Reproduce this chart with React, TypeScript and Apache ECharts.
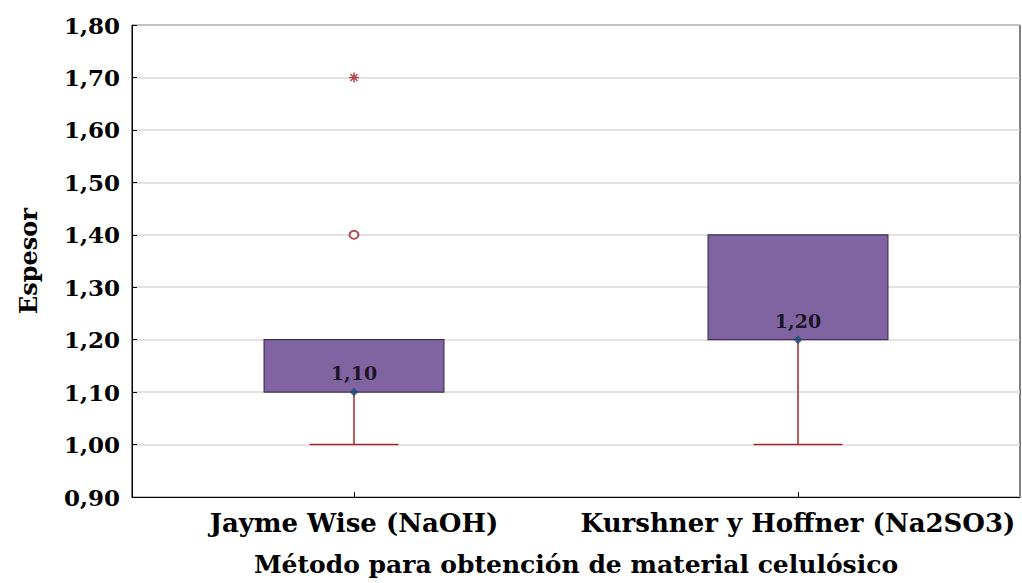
import React, { useEffect, useRef } from "react";
import * as echarts from "echarts";

const categories = ["Jayme Wise (NaOH)", "Kurshner y Hoffner (Na2SO3)"];
const whiskerLow = [1.0, 1.0];
const q1 = [1.1, 1.2];
const median = [1.1, 1.2];
const q3 = [1.2, 1.4];
const whiskerHigh = [1.2, 1.4];
const outliers: [number, number][] = [[0, 1.4]];
const extremes: [number, number][] = [[0, 1.7]];
const yTicks = { min: 0.9, max: 1.8, interval: 0.1 };

const FONT = "DejaVu Serif";
const WHISKER = "#A3262A";

export default function App() {
  const ref = useRef<HTMLDivElement>(null);
  useEffect(() => {
    if (!ref.current) return;
    const chart = echarts.init(ref.current, undefined, { renderer: "svg" });
    const boxData = categories.map((_, i) => [i, whiskerLow[i], q1[i], median[i], q3[i], whiskerHigh[i]]);
    const option: any = {
      animation: false,
      backgroundColor: "#fff",
      grid: { left: 132, right: 2, top: 25, bottom: 86, show: true, borderColor: "#000", borderWidth: 1, backgroundColor: "transparent" },
      xAxis: {
        type: "category",
        data: categories,
        boundaryGap: true,
        axisLine: { lineStyle: { color: "#000", width: 1 } },
        axisTick: { show: true, inside: true, alignWithLabel: true, length: 5, lineStyle: { color: "#000" } },
        axisLabel: { color: "#000", fontFamily: FONT, fontWeight: "bold", fontSize: 26, margin: 13, interval: 0, hideOverlap: false },
        name: "Método para obtención de material celulósico",
        nameLocation: "middle",
        nameGap: 55,
        nameTextStyle: { color: "#000", fontFamily: FONT, fontWeight: "bold", fontSize: 25 },
        splitLine: { show: false },
      },
      yAxis: {
        type: "value",
        min: yTicks.min,
        max: yTicks.max,
        interval: yTicks.interval,
        axisLine: { show: true, lineStyle: { color: "#000", width: 1 } },
        axisTick: { show: true, inside: true, length: 5, lineStyle: { color: "#000" } },
        axisLabel: {
          color: "#000",
          fontFamily: FONT,
          fontWeight: "bold",
          fontSize: 23,
          margin: 12,
          formatter: (v: number) => v.toFixed(2).replace(".", ","),
        },
        splitLine: { show: true, lineStyle: { color: "#D9D9D9", width: 1.5 } },
        name: "Espesor",
        nameLocation: "middle",
        nameGap: 92,
        nameRotate: 90,
        nameTextStyle: { color: "#000", fontFamily: FONT, fontWeight: "bold", fontSize: 24 },
      },
      series: [
        {
          type: "custom",
          data: boxData,
          encode: { x: 0, y: [1, 2, 3, 4, 5] },
          z: 2,
          renderItem: (params: any, api: any) => {
            const idx = api.value(0);
            const band = api.size([1, 0])[0];
            const boxW = band * 0.405;
            const capW = band * 0.2;
            const pLow = api.coord([idx, api.value(1)]);
            const pQ1 = api.coord([idx, api.value(2)]);
            const pQ3 = api.coord([idx, api.value(4)]);
            const pHigh = api.coord([idx, api.value(5)]);
            const cx = pLow[0];
            return {
              type: "group",
              children: [
                { type: "line", shape: { x1: cx, y1: pLow[1], x2: cx, y2: pQ1[1] }, style: { stroke: WHISKER, lineWidth: 1.5 } },
                { type: "line", shape: { x1: cx - capW / 2, y1: pLow[1], x2: cx + capW / 2, y2: pLow[1] }, style: { stroke: WHISKER, lineWidth: 1.5 } },
                { type: "line", shape: { x1: cx, y1: pHigh[1], x2: cx, y2: pQ3[1] }, style: { stroke: WHISKER, lineWidth: 1.5 } },
                {
                  type: "rect",
                  shape: { x: cx - boxW / 2, y: pQ3[1], width: boxW, height: pQ1[1] - pQ3[1] },
                  style: { fill: "#8064A2", stroke: "#403152", lineWidth: 1.2 },
                },
              ],
            };
          },
        },
        {
          type: "scatter",
          z: 5,
          data: median.map((m, i) => [i, m]),
          symbol: "diamond",
          symbolSize: 9,
          itemStyle: { color: "#1F4E79" },
          label: {
            show: true,
            position: "top",
            distance: 5,
            color: "#000",
            fontFamily: FONT,
            fontWeight: "bold",
            fontSize: 19,
            formatter: (p: any) => p.value[1].toFixed(2).replace(".", ","),
          },
        },
        {
          type: "scatter",
          z: 5,
          data: outliers,
          symbol: "circle",
          symbolSize: [9, 8],
          itemStyle: { color: "#fff", borderColor: WHISKER, borderWidth: 2 },
        },
        {
          type: "scatter",
          z: 5,
          data: extremes,
          symbol: "path://M5,0L5,10M0,5L10,5M1.5,1.5L8.5,8.5M1.5,8.5L8.5,1.5",
          symbolSize: 10,
          itemStyle: { color: "none", borderColor: WHISKER, borderWidth: 1.6 },
        },
      ],
    };
    chart.setOption(option);
    return () => chart.dispose();
  }, []);
  return <div ref={ref} style={{ position: "fixed", left: 0, top: 0, width: 1022, height: 583 }} />;
}
